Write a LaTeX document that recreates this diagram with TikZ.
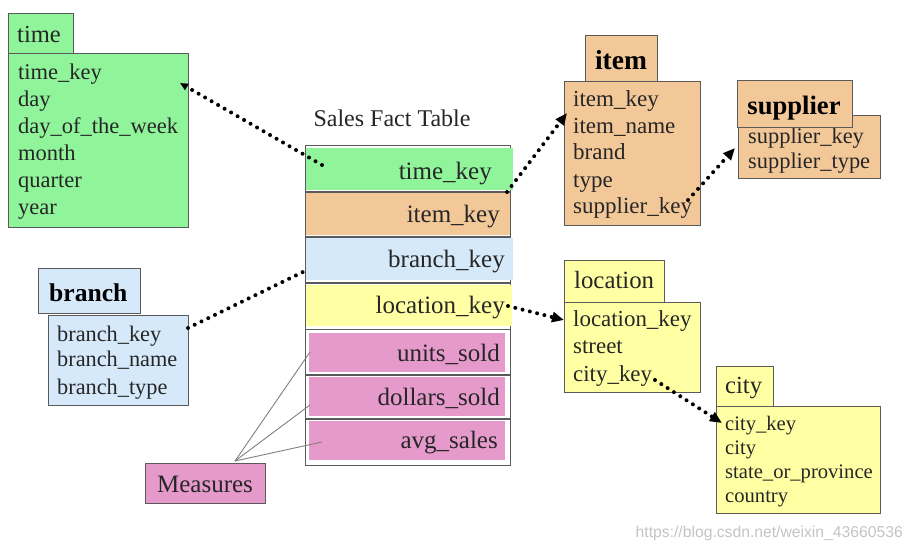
\documentclass[tikz,border=0pt]{standalone}
\usepackage{fontspec}
\setmainfont{Liberation Serif}
\newfontfamily\wmfont{Liberation Sans}
\usetikzlibrary{arrows.meta}
\definecolor{cgreen}{HTML}{90F59A}
\definecolor{corange}{HTML}{F3C898}
\definecolor{cblue}{HTML}{D6E9FA}
\definecolor{cyellow}{HTML}{FFFFA3}
\definecolor{cpink}{HTML}{E59ACB}
\definecolor{cedge}{HTML}{5A5A5A}
\definecolor{ctext}{HTML}{262626}
\definecolor{cwm}{HTML}{C4C4C4}
\begin{document}
\begin{tikzpicture}[x=1pt,y=-1pt,
  box/.style={draw=cedge, line width=1.1pt, rectangle, inner sep=0pt, anchor=north west},
  band/.style={rectangle, inner sep=0pt, anchor=north west},
  fld/.style={anchor=base west, inner sep=0pt, text=ctext, font=\fontsize{#1}{#1}\selectfont},
  fldr/.style={anchor=base east, inner sep=0pt, text=ctext, font=\fontsize{25}{25}\selectfont},
  ttl/.style={anchor=base west, inner sep=0pt, text=ctext, font=\fontsize{#1}{#1}\selectfont},
  bttl/.style={anchor=base, inner sep=0pt, text=black, font=\fontsize{#1}{#1}\selectfont\bfseries},
  sep/.style={draw=cedge, line width=1.4pt},
  conn/.style={line width=4pt, dash pattern=on 0pt off 7.5pt, line cap=round},
  connarr/.style={conn, -{Triangle[length=12pt,width=10pt]}},
  connsm/.style={conn, -{Triangle[length=8pt,width=7pt]}},
  mline/.style={draw=gray, line width=0.9pt}
]
\useasboundingbox[fill=white] (0,0) rectangle (914,550);

% ---------- time ----------
\node[box, fill=cgreen, minimum width=180, minimum height=174] (timeB) at (8,53) {};
\node[box, fill=cgreen, minimum width=65, minimum height=40] (timeT) at (8,13) {};
\node[ttl=24.5] (timeTitle) at (17,42) {time};
\node[fld=22.5] (t1) at (18,79) {time\_key};
\node[fld=22.5] (t2) at (18,106) {day};
\node[fld=22.5] (t3) at (18,133) {day\_of\_the\_week};
\node[fld=22.5] (t4) at (18,160) {month};
\node[fld=22.5] (t5) at (18,187) {quarter};
\node[fld=22.5] (t6) at (18,214) {year};

% ---------- fact table ----------
\node[anchor=base, inner sep=0pt, text=ctext, font=\fontsize{24}{24}\selectfont] (factTitle) at (392,126) {Sales Fact Table};
\node[box, fill=white, minimum width=205, minimum height=320] (factB) at (305,145) {};
\node[band, fill=cgreen, minimum width=207, minimum height=42] (rTime) at (306,148) {};
\node[band, fill=corange, minimum width=204, minimum height=42] (rItem) at (306,193) {};
\node[band, fill=cblue, minimum width=207, minimum height=42] (rBranch) at (306,238) {};
\node[band, fill=cyellow, minimum width=206, minimum height=41] (rLoc) at (306,285) {};
\node[band, fill=cpink, minimum width=196, minimum height=39] (rUnits) at (309,333) {};
\node[band, fill=cpink, minimum width=196, minimum height=39] (rDollars) at (309,377) {};
\node[band, fill=cpink, minimum width=196, minimum height=39] (rAvg) at (309,421) {};
\draw[sep] (rTime.south west) ++(0,1.5) -- ++(204,0);
\draw[sep] (rItem.south west) ++(0,1.5) -- ++(204,0);
\draw[sep] (rBranch.south west) ++(0,2.5) -- ++(204,0);
\draw[sep] (rLoc.south west) ++(0,3) -- ++(204,0);
\draw[sep] (rUnits.south west) ++(-3,2.5) -- ++(204,0);
\draw[sep] (rDollars.south west) ++(-3,2.5) -- ++(204,0);
\node[fldr] (fTime) at (492,179) {time\_key};
\node[fldr] (fItem) at (500,222) {item\_key};
\node[fldr] (fBranch) at (505,267) {branch\_key};
\node[fldr] (fLoc) at (505,313) {location\_key};
\node[fldr] (fUnits) at (500,361) {units\_sold};
\node[fldr] (fDollars) at (500,405) {dollars\_sold};
\node[fldr] (fAvg) at (498,448) {avg\_sales};

% ---------- item ----------
\node[box, fill=corange, minimum width=136, minimum height=144] (itemB) at (564,81) {};
\node[box, fill=corange, minimum width=72, minimum height=46] (itemT) at (585,35) {};
\node[bttl=27.5] (itemTitle) at (621,69) {item};
\node[fld=23] (i1) at (573,106) {item\_key};
\node[fld=23] (i2) at (573,133) {item\_name};
\node[fld=23] (i3) at (573,159) {brand};
\node[fld=23] (i4) at (573,187) {type};
\node[fld=23] (i5) at (573,213) {supplier\_key};

% ---------- supplier ----------
\node[box, fill=corange, minimum width=142, minimum height=63] (supB) at (738,115) {};
\node[fld=22.4] (s1) at (748,143) {supplier\_key};
\node[fld=22.4] (s2) at (748,168) {supplier\_type};
\node[box, fill=corange, minimum width=115, minimum height=47] (supT) at (737,80) {};
\node[bttl=26.6] (supTitle) at (794,114) {supplier};

% ---------- branch ----------
\node[box, fill=cblue, minimum width=140, minimum height=90] (brB) at (48,315) {};
\node[box, fill=cblue, minimum width=102, minimum height=45] (brT) at (38,268) {};
\node[anchor=base west, inner sep=0pt, text=black, font=\fontsize{25.6}{25.6}\selectfont\bfseries] (brTitle) at (49,301) {branch};
\node[fld=22.3] (b1) at (57,341) {branch\_key};
\node[fld=22.3] (b2) at (57,366) {branch\_name};
\node[fld=22.3] (b3) at (57,394) {branch\_type};

% ---------- measures ----------
\node[box, fill=cpink, minimum width=120, minimum height=40] (meas) at (145,463) {};
\node[anchor=base, inner sep=0pt, text=ctext, font=\fontsize{25}{25}\selectfont] (measT) at (205,492) {Measures};
\coordinate (mTop) at (235,461);
\coordinate (mU) at (310,352);
\coordinate (mD) at (310,405);
\coordinate (mA) at (322,442);
\draw[mline] (mTop) -- (mU);
\draw[mline] (mTop) -- (mD);
\draw[mline] (mTop) -- (mA);

% ---------- location ----------
\node[box, fill=cyellow, minimum width=136, minimum height=90] (locB) at (564,302) {};
\node[box, fill=cyellow, minimum width=100, minimum height=42] (locT) at (564,260) {};
\node[ttl=24.8] (locTitle) at (574,288) {location};
\node[fld=22.9] (l1) at (573,326) {location\_key};
\node[fld=22.9] (l2) at (573,353) {street};
\node[fld=22.9] (l3) at (573,381) {city\_key};

% ---------- city ----------
\node[box, fill=cyellow, minimum width=164, minimum height=107] (cityB) at (716,406) {};
\node[box, fill=cyellow, minimum width=57, minimum height=40] (cityT) at (716,366) {};
\node[ttl=24.6] (cityTitle) at (725,393) {city};
\node[fld=20.6] (c1) at (725,430) {city\_key};
\node[fld=20.6] (c2) at (725,454) {city};
\node[fld=20.6] (c3) at (725,478) {state\_or\_province};
\node[fld=20.6] (c4) at (725,502) {country};

% ---------- connectors ----------
\coordinate (cTimeA) at (322,165);
\coordinate (cTimeB) at (180,83);
\coordinate (cItemA) at (507,192);
\coordinate (cItemB) at (567,113);
\coordinate (cBrA) at (188,328);
\coordinate (cBrB) at (307,270);
\coordinate (cLocA) at (508,306);
\coordinate (cLocB) at (564,320);
\coordinate (cSupA) at (688,200);
\coordinate (cSupB) at (735,148);
\coordinate (cCityA) at (655,380);
\coordinate (cCityB) at (722,423);
\draw[connsm] (cTimeA) -- (cTimeB);
\draw[connarr] (cItemA) -- (cItemB);
\draw[conn] (cBrA) -- (cBrB);
\draw[connarr] (cLocA) -- (cLocB);
\draw[connarr] (cSupA) -- (cSupB);
\draw[connarr] (cCityA) -- (cCityB);

% ---------- watermark ----------
\node[anchor=base east, inner sep=0pt, text=cwm, font=\wmfont\fontsize{15.7}{15.7}\selectfont] (wm) at (903,537) {https://blog.csdn.net/weixin\_43660536};
\end{tikzpicture}
\end{document}
